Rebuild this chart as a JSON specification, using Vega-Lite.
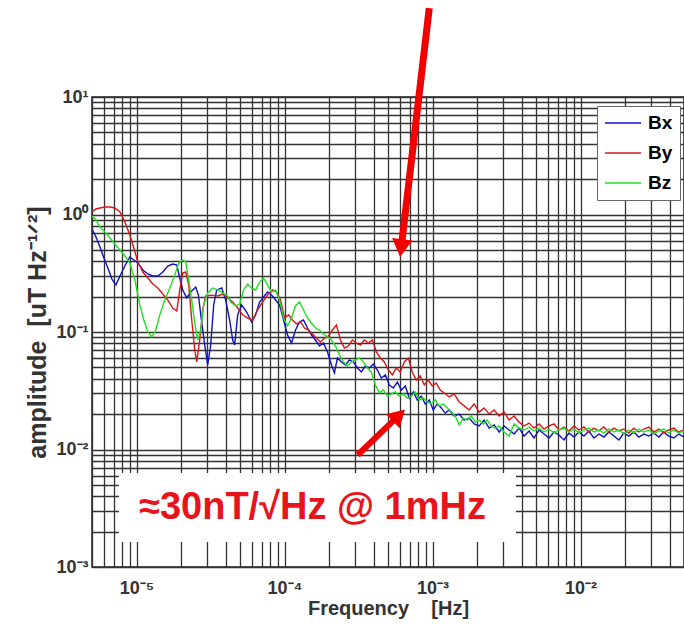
{
  "$schema": "https://vega.github.io/schema/vega-lite/v6.json",
  "width": 592,
  "height": 470,
  "autosize": {"type": "none"},
  "padding": {"left": 92, "top": 97, "right": 0, "bottom": 59},
  "background": "white",
  "config": {
    "view": {"stroke": "#222", "strokeWidth": 1.5},
    "axis": {
      "grid": true,
      "gridColor": "#333",
      "gridWidth": 1.3,
      "gridOpacity": 1,
      "ticks": false,
      "domain": false,
      "labelFont": "Liberation Sans",
      "labelFontWeight": "bold",
      "labelFontSize": 18,
      "labelColor": "#333",
      "labelOverlap": false,
      "labelFlush": false,
      "titleFont": "Liberation Sans",
      "titleFontWeight": "bold",
      "titleColor": "#333"
    }
  },
  "datasets": {
    "psd": [
      {"f":5.0e-6,"a":0.753,"s":"Bx"},{"f":5.32e-6,"a":0.643,"s":"Bx"},{"f":5.66e-6,"a":0.529,"s":"Bx"},{"f":6.02e-6,"a":0.426,"s":"Bx"},{"f":6.40e-6,"a":0.350,"s":"Bx"},{"f":6.82e-6,"a":0.282,"s":"Bx"},{"f":7.25e-6,"a":0.251,"s":"Bx"},{"f":7.84e-6,"a":0.312,"s":"Bx"},{"f":8.47e-6,"a":0.379,"s":"Bx"},{"f":9.01e-6,"a":0.435,"s":"Bx"},{"f":9.59e-6,"a":0.410,"s":"Bx"},{"f":1.02e-5,"a":0.387,"s":"Bx"},{"f":1.103e-5,"a":0.337,"s":"Bx"},{"f":1.192e-5,"a":0.312,"s":"Bx"},{"f":1.288e-5,"a":0.300,"s":"Bx"},{"f":1.392e-5,"a":0.300,"s":"Bx"},{"f":1.505e-5,"a":0.324,"s":"Bx"},{"f":1.626e-5,"a":0.364,"s":"Bx"},{"f":1.757e-5,"a":0.379,"s":"Bx"},{"f":1.87e-5,"a":0.372,"s":"Bx"},{"f":1.959e-5,"a":0.288,"s":"Bx"},{"f":2.052e-5,"a":0.228,"s":"Bx"},{"f":2.183e-5,"a":0.195,"s":"Bx"},{"f":2.323e-5,"a":0.219,"s":"Bx"},{"f":2.512e-5,"a":0.2415,"s":"Bx"},{"f":2.618e-5,"a":0.206,"s":"Bx"},{"f":2.744e-5,"a":0.1265,"s":"Bx"},{"f":2.888e-5,"a":0.0775,"s":"Bx"},{"f":3.025e-5,"a":0.0524,"s":"Bx"},{"f":3.17e-5,"a":0.0775,"s":"Bx"},{"f":3.321e-5,"a":0.170,"s":"Bx"},{"f":3.479e-5,"a":0.228,"s":"Bx"},{"f":3.761e-5,"a":0.237,"s":"Bx"},{"f":4.0e-5,"a":0.187,"s":"Bx"},{"f":4.258e-5,"a":0.1265,"s":"Bx"},{"f":4.461e-5,"a":0.0855,"s":"Bx"},{"f":4.601e-5,"a":0.0775,"s":"Bx"},{"f":4.82e-5,"a":0.140,"s":"Bx"},{"f":5.13e-5,"a":0.170,"s":"Bx"},{"f":5.544e-5,"a":0.148,"s":"Bx"},{"f":5.991e-5,"a":0.1217,"s":"Bx"},{"f":6.376e-5,"a":0.140,"s":"Bx"},{"f":6.784e-5,"a":0.180,"s":"Bx"},{"f":7.217e-5,"a":0.1986,"s":"Bx"},{"f":7.68e-5,"a":0.219,"s":"Bx"},{"f":8.174e-5,"a":0.206,"s":"Bx"},{"f":8.698e-5,"a":0.187,"s":"Bx"},{"f":9.253e-5,"a":0.170,"s":"Bx"},{"f":9.847e-5,"a":0.1265,"s":"Bx"},{"f":1.048e-4,"a":0.0943,"s":"Bx"},{"f":1.115e-4,"a":0.0806,"s":"Bx"},{"f":1.186e-4,"a":0.1040,"s":"Bx"},{"f":1.262e-4,"a":0.1217,"s":"Bx"},{"f":1.343e-4,"a":0.1265,"s":"Bx"},{"f":1.429e-4,"a":0.1081,"s":"Bx"},{"f":1.521e-4,"a":0.0943,"s":"Bx"},{"f":1.618e-4,"a":0.0855,"s":"Bx"},{"f":1.722e-4,"a":0.0760,"s":"Bx"},{"f":1.833e-4,"a":0.0806,"s":"Bx"},{"f":1.95e-4,"a":0.0676,"s":"Bx"},{"f":2.075e-4,"a":0.0524,"s":"Bx"},{"f":2.173e-4,"a":0.0448,"s":"Bx"},{"f":2.277e-4,"a":0.0601,"s":"Bx"},{"f":2.423e-4,"a":0.0556,"s":"Bx"},{"f":2.578e-4,"a":0.0524,"s":"Bx"},{"f":2.743e-4,"a":0.0578,"s":"Bx"},{"f":2.919e-4,"a":0.0556,"s":"Bx"},{"f":3.107e-4,"a":0.0494,"s":"Bx"},{"f":3.306e-4,"a":0.0457,"s":"Bx"},{"f":3.518e-4,"a":0.0514,"s":"Bx"},{"f":3.742e-4,"a":0.0494,"s":"Bx"},{"f":3.982e-4,"a":0.0534,"s":"Bx"},{"f":4.238e-4,"a":0.0475,"s":"Bx"},{"f":4.51e-4,"a":0.0406,"s":"Bx"},{"f":4.798e-4,"a":0.0431,"s":"Bx"},{"f":5.104e-4,"a":0.0354,"s":"Bx"},{"f":5.432e-4,"a":0.0334,"s":"Bx"},{"f":5.781e-4,"a":0.0375,"s":"Bx"},{"f":6.152e-4,"a":0.0321,"s":"Bx"},{"f":6.546e-4,"a":0.0347,"s":"Bx"},{"f":6.962e-4,"a":0.0274,"s":"Bx"},{"f":7.413e-4,"a":0.0309,"s":"Bx"},{"f":7.886e-4,"a":0.0264,"s":"Bx"},{"f":8.391e-4,"a":0.0285,"s":"Bx"},{"f":8.929e-4,"a":0.0244,"s":"Bx"},{"f":9.502e-4,"a":0.0264,"s":"Bx"},{"f":1.011e-3,"a":0.0217,"s":"Bx"},{"f":1.076e-3,"a":0.0244,"s":"Bx"},{"f":1.145e-3,"a":0.0226,"s":"Bx"},{"f":1.218e-3,"a":0.0204,"s":"Bx"},{"f":1.296e-3,"a":0.0217,"s":"Bx"},{"f":1.401e-3,"a":0.0193,"s":"Bx"},{"f":1.514e-3,"a":0.0200,"s":"Bx"},{"f":1.636e-3,"a":0.0178,"s":"Bx"},{"f":1.768e-3,"a":0.0185,"s":"Bx"},{"f":1.911e-3,"a":0.0165,"s":"Bx"},{"f":2.065e-3,"a":0.01585,"s":"Bx"},{"f":2.232e-3,"a":0.0178,"s":"Bx"},{"f":2.412e-3,"a":0.0152,"s":"Bx"},{"f":2.607e-3,"a":0.0162,"s":"Bx"},{"f":2.817e-3,"a":0.01409,"s":"Bx"},{"f":3.045e-3,"a":0.01585,"s":"Bx"},{"f":3.29e-3,"a":0.01466,"s":"Bx"},{"f":3.556e-3,"a":0.01354,"s":"Bx"},{"f":3.843e-3,"a":0.0152,"s":"Bx"},{"f":4.153e-3,"a":0.01302,"s":"Bx"},{"f":4.488e-3,"a":0.01437,"s":"Bx"},{"f":4.85e-3,"a":0.01253,"s":"Bx"},{"f":5.242e-3,"a":0.01466,"s":"Bx"},{"f":5.665e-3,"a":0.01354,"s":"Bx"},{"f":6.123e-3,"a":0.01253,"s":"Bx"},{"f":6.616e-3,"a":0.01409,"s":"Bx"},{"f":7.151e-3,"a":0.01329,"s":"Bx"},{"f":7.728e-3,"a":0.01205,"s":"Bx"},{"f":8.352e-3,"a":0.01382,"s":"Bx"},{"f":9.026e-3,"a":0.01277,"s":"Bx"},{"f":9.754e-3,"a":0.01409,"s":"Bx"},{"f":1.054e-2,"a":0.01302,"s":"Bx"},{"f":1.139e-2,"a":0.01437,"s":"Bx"},{"f":1.231e-2,"a":0.01253,"s":"Bx"},{"f":1.331e-2,"a":0.01354,"s":"Bx"},{"f":1.438e-2,"a":0.01277,"s":"Bx"},{"f":1.554e-2,"a":0.01409,"s":"Bx"},{"f":1.68e-2,"a":0.01302,"s":"Bx"},{"f":1.815e-2,"a":0.01205,"s":"Bx"},{"f":1.962e-2,"a":0.01382,"s":"Bx"},{"f":2.12e-2,"a":0.01302,"s":"Bx"},{"f":2.291e-2,"a":0.01409,"s":"Bx"},{"f":2.476e-2,"a":0.01277,"s":"Bx"},{"f":2.676e-2,"a":0.01354,"s":"Bx"},{"f":2.892e-2,"a":0.01302,"s":"Bx"},{"f":3.126e-2,"a":0.01382,"s":"Bx"},{"f":3.378e-2,"a":0.01277,"s":"Bx"},{"f":3.651e-2,"a":0.01409,"s":"Bx"},{"f":3.945e-2,"a":0.01302,"s":"Bx"},{"f":4.264e-2,"a":0.01253,"s":"Bx"},{"f":4.607e-2,"a":0.01354,"s":"Bx"},{"f":4.98e-2,"a":0.01277,"s":"Bx"},

      {"f":5.0e-6,"a":1.050,"s":"By"},{"f":5.32e-6,"a":1.114,"s":"By"},{"f":5.66e-6,"a":1.136,"s":"By"},{"f":6.11e-6,"a":1.158,"s":"By"},{"f":6.61e-6,"a":1.158,"s":"By"},{"f":7.14e-6,"a":1.136,"s":"By"},{"f":7.72e-6,"a":1.050,"s":"By"},{"f":8.34e-6,"a":0.863,"s":"By"},{"f":9.01e-6,"a":0.669,"s":"By"},{"f":9.59e-6,"a":0.519,"s":"By"},{"f":1.02e-5,"a":0.394,"s":"By"},{"f":1.103e-5,"a":0.324,"s":"By"},{"f":1.192e-5,"a":0.288,"s":"By"},{"f":1.288e-5,"a":0.256,"s":"By"},{"f":1.392e-5,"a":0.237,"s":"By"},{"f":1.505e-5,"a":0.2106,"s":"By"},{"f":1.626e-5,"a":0.187,"s":"By"},{"f":1.757e-5,"a":0.160,"s":"By"},{"f":1.87e-5,"a":0.151,"s":"By"},{"f":1.959e-5,"a":0.228,"s":"By"},{"f":2.052e-5,"a":0.318,"s":"By"},{"f":2.15e-5,"a":0.324,"s":"By"},{"f":2.253e-5,"a":0.251,"s":"By"},{"f":2.36e-5,"a":0.1265,"s":"By"},{"f":2.472e-5,"a":0.0703,"s":"By"},{"f":2.55e-5,"a":0.0556,"s":"By"},{"f":2.672e-5,"a":0.0855,"s":"By"},{"f":2.8e-5,"a":0.154,"s":"By"},{"f":2.933e-5,"a":0.2025,"s":"By"},{"f":3.219e-5,"a":0.206,"s":"By"},{"f":3.535e-5,"a":0.2025,"s":"By"},{"f":3.819e-5,"a":0.2106,"s":"By"},{"f":4.127e-5,"a":0.195,"s":"By"},{"f":4.461e-5,"a":0.180,"s":"By"},{"f":4.82e-5,"a":0.160,"s":"By"},{"f":5.21e-5,"a":0.140,"s":"By"},{"f":5.63e-5,"a":0.1315,"s":"By"},{"f":6.085e-5,"a":0.1265,"s":"By"},{"f":6.577e-5,"a":0.154,"s":"By"},{"f":7.107e-5,"a":0.180,"s":"By"},{"f":7.68e-5,"a":0.206,"s":"By"},{"f":8.303e-5,"a":0.228,"s":"By"},{"f":8.834e-5,"a":0.219,"s":"By"},{"f":9.4e-5,"a":0.187,"s":"By"},{"f":1.0e-4,"a":0.1315,"s":"By"},{"f":1.064e-4,"a":0.140,"s":"By"},{"f":1.132e-4,"a":0.1265,"s":"By"},{"f":1.205e-4,"a":0.1170,"s":"By"},{"f":1.282e-4,"a":0.1217,"s":"By"},{"f":1.364e-4,"a":0.1081,"s":"By"},{"f":1.451e-4,"a":0.1040,"s":"By"},{"f":1.545e-4,"a":0.0962,"s":"By"},{"f":1.643e-4,"a":0.0889,"s":"By"},{"f":1.749e-4,"a":0.0822,"s":"By"},{"f":1.861e-4,"a":0.0889,"s":"By"},{"f":1.98e-4,"a":0.0925,"s":"By"},{"f":2.107e-4,"a":0.1040,"s":"By"},{"f":2.242e-4,"a":0.1147,"s":"By"},{"f":2.386e-4,"a":0.0855,"s":"By"},{"f":2.538e-4,"a":0.0731,"s":"By"},{"f":2.701e-4,"a":0.0760,"s":"By"},{"f":2.874e-4,"a":0.0855,"s":"By"},{"f":3.058e-4,"a":0.0806,"s":"By"},{"f":3.254e-4,"a":0.0775,"s":"By"},{"f":3.462e-4,"a":0.0855,"s":"By"},{"f":3.684e-4,"a":0.0806,"s":"By"},{"f":3.921e-4,"a":0.0855,"s":"By"},{"f":4.172e-4,"a":0.0676,"s":"By"},{"f":4.439e-4,"a":0.0601,"s":"By"},{"f":4.723e-4,"a":0.0556,"s":"By"},{"f":5.026e-4,"a":0.0475,"s":"By"},{"f":5.348e-4,"a":0.0431,"s":"By"},{"f":5.691e-4,"a":0.0494,"s":"By"},{"f":6.055e-4,"a":0.0457,"s":"By"},{"f":6.442e-4,"a":0.0556,"s":"By"},{"f":6.856e-4,"a":0.0601,"s":"By"},{"f":7.295e-4,"a":0.0457,"s":"By"},{"f":7.762e-4,"a":0.0390,"s":"By"},{"f":8.26e-4,"a":0.0422,"s":"By"},{"f":8.793e-4,"a":0.0354,"s":"By"},{"f":9.356e-4,"a":0.0390,"s":"By"},{"f":9.954e-4,"a":0.0347,"s":"By"},{"f":1.059e-3,"a":0.0368,"s":"By"},{"f":1.127e-3,"a":0.0321,"s":"By"},{"f":1.2e-3,"a":0.0303,"s":"By"},{"f":1.296e-3,"a":0.0280,"s":"By"},{"f":1.401e-3,"a":0.0297,"s":"By"},{"f":1.514e-3,"a":0.0254,"s":"By"},{"f":1.636e-3,"a":0.0235,"s":"By"},{"f":1.768e-3,"a":0.0217,"s":"By"},{"f":1.911e-3,"a":0.0244,"s":"By"},{"f":2.065e-3,"a":0.0208,"s":"By"},{"f":2.232e-3,"a":0.0226,"s":"By"},{"f":2.412e-3,"a":0.0200,"s":"By"},{"f":2.607e-3,"a":0.0217,"s":"By"},{"f":2.817e-3,"a":0.0193,"s":"By"},{"f":3.045e-3,"a":0.0208,"s":"By"},{"f":3.29e-3,"a":0.0178,"s":"By"},{"f":3.556e-3,"a":0.0193,"s":"By"},{"f":3.843e-3,"a":0.0171,"s":"By"},{"f":4.153e-3,"a":0.01585,"s":"By"},{"f":4.488e-3,"a":0.0168,"s":"By"},{"f":4.85e-3,"a":0.0152,"s":"By"},{"f":5.242e-3,"a":0.0165,"s":"By"},{"f":5.665e-3,"a":0.01494,"s":"By"},{"f":6.123e-3,"a":0.01585,"s":"By"},{"f":6.616e-3,"a":0.0165,"s":"By"},{"f":7.151e-3,"a":0.01466,"s":"By"},{"f":7.728e-3,"a":0.01554,"s":"By"},{"f":8.352e-3,"a":0.01437,"s":"By"},{"f":9.026e-3,"a":0.01585,"s":"By"},{"f":9.754e-3,"a":0.01466,"s":"By"},{"f":1.054e-2,"a":0.01554,"s":"By"},{"f":1.139e-2,"a":0.01409,"s":"By"},{"f":1.231e-2,"a":0.0152,"s":"By"},{"f":1.331e-2,"a":0.01437,"s":"By"},{"f":1.438e-2,"a":0.01554,"s":"By"},{"f":1.554e-2,"a":0.01409,"s":"By"},{"f":1.68e-2,"a":0.0152,"s":"By"},{"f":1.815e-2,"a":0.01437,"s":"By"},{"f":1.962e-2,"a":0.01494,"s":"By"},{"f":2.12e-2,"a":0.01382,"s":"By"},{"f":2.291e-2,"a":0.0152,"s":"By"},{"f":2.476e-2,"a":0.01409,"s":"By"},{"f":2.676e-2,"a":0.01494,"s":"By"},{"f":2.892e-2,"a":0.01554,"s":"By"},{"f":3.126e-2,"a":0.01409,"s":"By"},{"f":3.378e-2,"a":0.01494,"s":"By"},{"f":3.651e-2,"a":0.01382,"s":"By"},{"f":3.945e-2,"a":0.01466,"s":"By"},{"f":4.264e-2,"a":0.0152,"s":"By"},{"f":4.607e-2,"a":0.01409,"s":"By"},{"f":4.98e-2,"a":0.01466,"s":"By"},

      {"f":5.0e-6,"a":0.971,"s":"Bz"},{"f":5.32e-6,"a":0.898,"s":"Bz"},{"f":5.66e-6,"a":0.783,"s":"Bz"},{"f":6.11e-6,"a":0.710,"s":"Bz"},{"f":6.61e-6,"a":0.631,"s":"Bz"},{"f":7.14e-6,"a":0.561,"s":"Bz"},{"f":7.72e-6,"a":0.499,"s":"Bz"},{"f":8.34e-6,"a":0.443,"s":"Bz"},{"f":9.01e-6,"a":0.387,"s":"Bz"},{"f":9.74e-6,"a":0.277,"s":"Bz"},{"f":1.053e-5,"a":0.170,"s":"Bz"},{"f":1.12e-5,"a":0.1265,"s":"Bz"},{"f":1.192e-5,"a":0.100,"s":"Bz"},{"f":1.268e-5,"a":0.0907,"s":"Bz"},{"f":1.349e-5,"a":0.1040,"s":"Bz"},{"f":1.436e-5,"a":0.140,"s":"Bz"},{"f":1.552e-5,"a":0.187,"s":"Bz"},{"f":1.677e-5,"a":0.237,"s":"Bz"},{"f":1.812e-5,"a":0.306,"s":"Bz"},{"f":1.929e-5,"a":0.387,"s":"Bz"},{"f":2.052e-5,"a":0.410,"s":"Bz"},{"f":2.15e-5,"a":0.394,"s":"Bz"},{"f":2.253e-5,"a":0.277,"s":"Bz"},{"f":2.36e-5,"a":0.187,"s":"Bz"},{"f":2.472e-5,"a":0.1193,"s":"Bz"},{"f":2.591e-5,"a":0.0855,"s":"Bz"},{"f":2.715e-5,"a":0.1040,"s":"Bz"},{"f":2.843e-5,"a":0.170,"s":"Bz"},{"f":3.025e-5,"a":0.215,"s":"Bz"},{"f":3.27e-5,"a":0.237,"s":"Bz"},{"f":3.535e-5,"a":0.228,"s":"Bz"},{"f":3.819e-5,"a":0.215,"s":"Bz"},{"f":4.127e-5,"a":0.2025,"s":"Bz"},{"f":4.324e-5,"a":0.180,"s":"Bz"},{"f":4.673e-5,"a":0.1665,"s":"Bz"},{"f":4.973e-5,"a":0.173,"s":"Bz"},{"f":5.291e-5,"a":0.228,"s":"Bz"},{"f":5.63e-5,"a":0.256,"s":"Bz"},{"f":5.991e-5,"a":0.237,"s":"Bz"},{"f":6.376e-5,"a":0.228,"s":"Bz"},{"f":6.784e-5,"a":0.266,"s":"Bz"},{"f":7.217e-5,"a":0.288,"s":"Bz"},{"f":7.68e-5,"a":0.251,"s":"Bz"},{"f":8.174e-5,"a":0.219,"s":"Bz"},{"f":8.698e-5,"a":0.228,"s":"Bz"},{"f":9.253e-5,"a":0.187,"s":"Bz"},{"f":9.847e-5,"a":0.1315,"s":"Bz"},{"f":1.048e-4,"a":0.1125,"s":"Bz"},{"f":1.115e-4,"a":0.1315,"s":"Bz"},{"f":1.186e-4,"a":0.1665,"s":"Bz"},{"f":1.262e-4,"a":0.180,"s":"Bz"},{"f":1.343e-4,"a":0.154,"s":"Bz"},{"f":1.429e-4,"a":0.1315,"s":"Bz"},{"f":1.521e-4,"a":0.1193,"s":"Bz"},{"f":1.618e-4,"a":0.1081,"s":"Bz"},{"f":1.722e-4,"a":0.1040,"s":"Bz"},{"f":1.833e-4,"a":0.0962,"s":"Bz"},{"f":1.95e-4,"a":0.0907,"s":"Bz"},{"f":2.075e-4,"a":0.0855,"s":"Bz"},{"f":2.208e-4,"a":0.0760,"s":"Bz"},{"f":2.349e-4,"a":0.0637,"s":"Bz"},{"f":2.499e-4,"a":0.0556,"s":"Bz"},{"f":2.659e-4,"a":0.0514,"s":"Bz"},{"f":2.83e-4,"a":0.0556,"s":"Bz"},{"f":3.012e-4,"a":0.0578,"s":"Bz"},{"f":3.204e-4,"a":0.0601,"s":"Bz"},{"f":3.409e-4,"a":0.0556,"s":"Bz"},{"f":3.628e-4,"a":0.0494,"s":"Bz"},{"f":3.861e-4,"a":0.0457,"s":"Bz"},{"f":4.108e-4,"a":0.0354,"s":"Bz"},{"f":4.37e-4,"a":0.0303,"s":"Bz"},{"f":4.651e-4,"a":0.0321,"s":"Bz"},{"f":4.949e-4,"a":0.0285,"s":"Bz"},{"f":5.266e-4,"a":0.0297,"s":"Bz"},{"f":5.604e-4,"a":0.0309,"s":"Bz"},{"f":5.961e-4,"a":0.0285,"s":"Bz"},{"f":6.345e-4,"a":0.0297,"s":"Bz"},{"f":6.752e-4,"a":0.0274,"s":"Bz"},{"f":7.184e-4,"a":0.0285,"s":"Bz"},{"f":7.644e-4,"a":0.0309,"s":"Bz"},{"f":8.131e-4,"a":0.0264,"s":"Bz"},{"f":8.656e-4,"a":0.0274,"s":"Bz"},{"f":9.21e-4,"a":0.0254,"s":"Bz"},{"f":9.8e-4,"a":0.0244,"s":"Bz"},{"f":1.043e-3,"a":0.0264,"s":"Bz"},{"f":1.11e-3,"a":0.0235,"s":"Bz"},{"f":1.181e-3,"a":0.0244,"s":"Bz"},{"f":1.257e-3,"a":0.0226,"s":"Bz"},{"f":1.337e-3,"a":0.0208,"s":"Bz"},{"f":1.423e-3,"a":0.0193,"s":"Bz"},{"f":1.514e-3,"a":0.0162,"s":"Bz"},{"f":1.611e-3,"a":0.0185,"s":"Bz"},{"f":1.714e-3,"a":0.0178,"s":"Bz"},{"f":1.824e-3,"a":0.0193,"s":"Bz"},{"f":1.941e-3,"a":0.0171,"s":"Bz"},{"f":2.065e-3,"a":0.0178,"s":"Bz"},{"f":2.197e-3,"a":0.0165,"s":"Bz"},{"f":2.337e-3,"a":0.0178,"s":"Bz"},{"f":2.488e-3,"a":0.01585,"s":"Bz"},{"f":2.648e-3,"a":0.0152,"s":"Bz"},{"f":2.817e-3,"a":0.01585,"s":"Bz"},{"f":3.045e-3,"a":0.01409,"s":"Bz"},{"f":3.29e-3,"a":0.01302,"s":"Bz"},{"f":3.556e-3,"a":0.0165,"s":"Bz"},{"f":3.843e-3,"a":0.0152,"s":"Bz"},{"f":4.153e-3,"a":0.01466,"s":"Bz"},{"f":4.488e-3,"a":0.01554,"s":"Bz"},{"f":4.85e-3,"a":0.01437,"s":"Bz"},{"f":5.242e-3,"a":0.0152,"s":"Bz"},{"f":5.665e-3,"a":0.01409,"s":"Bz"},{"f":6.123e-3,"a":0.01494,"s":"Bz"},{"f":6.616e-3,"a":0.01382,"s":"Bz"},{"f":7.151e-3,"a":0.01466,"s":"Bz"},{"f":7.728e-3,"a":0.0152,"s":"Bz"},{"f":8.352e-3,"a":0.01409,"s":"Bz"},{"f":9.026e-3,"a":0.01494,"s":"Bz"},{"f":9.754e-3,"a":0.01382,"s":"Bz"},{"f":1.054e-2,"a":0.01466,"s":"Bz"},{"f":1.139e-2,"a":0.0152,"s":"Bz"},{"f":1.231e-2,"a":0.01409,"s":"Bz"},{"f":1.331e-2,"a":0.01466,"s":"Bz"},{"f":1.438e-2,"a":0.01382,"s":"Bz"},{"f":1.554e-2,"a":0.01494,"s":"Bz"},{"f":1.68e-2,"a":0.01409,"s":"Bz"},{"f":1.815e-2,"a":0.01466,"s":"Bz"},{"f":1.962e-2,"a":0.01354,"s":"Bz"},{"f":2.12e-2,"a":0.01466,"s":"Bz"},{"f":2.291e-2,"a":0.01382,"s":"Bz"},{"f":2.476e-2,"a":0.01494,"s":"Bz"},{"f":2.676e-2,"a":0.01409,"s":"Bz"},{"f":2.892e-2,"a":0.01466,"s":"Bz"},{"f":3.126e-2,"a":0.01354,"s":"Bz"},{"f":3.378e-2,"a":0.01437,"s":"Bz"},{"f":3.651e-2,"a":0.01494,"s":"Bz"},{"f":3.945e-2,"a":0.01382,"s":"Bz"},{"f":4.264e-2,"a":0.01466,"s":"Bz"},{"f":4.607e-2,"a":0.01382,"s":"Bz"},{"f":4.98e-2,"a":0.01437,"s":"Bz"}
    ]
  },
  "layer": [
    {
      "data": {"name": "psd"},
      "mark": {"type": "line", "strokeWidth": 1.4, "clip": true},
      "encoding": {
        "x": {
          "field": "f", "type": "quantitative",
          "scale": {"type": "log", "domain": [0.000005, 0.05], "nice": false},
          "axis": {
            "title": "Frequency\u00a0\u00a0\u00a0\u00a0[Hz]",
            "titleFontSize": 20,
            "titlePadding": 1,
            "labelPadding": 12,
            "values": [0.000005,0.000006,0.000007,0.000008,0.000009,0.00001,0.00002,0.00003,0.00004,0.00005,0.00006,0.00007,0.00008,0.00009,0.0001,0.0002,0.0003,0.0004,0.0005,0.0006,0.0007,0.0008,0.0009,0.001,0.002,0.003,0.004,0.005,0.006,0.007,0.008,0.009,0.01,0.02,0.03,0.04,0.05],
            "labelExpr": "datum.value == 0.00001 ? '10⁻⁵' : datum.value == 0.0001 ? '10⁻⁴' : datum.value == 0.001 ? '10⁻³' : datum.value == 0.01 ? '10⁻²' : ''"
          }
        },
        "y": {
          "field": "a", "type": "quantitative",
          "scale": {"type": "log", "domain": [0.001, 10], "nice": false},
          "axis": {
            "title": "amplitude\u00a0\u00a0[uT Hz⁻¹ᐟ²]",
            "titleFontSize": 25,
            "titlePadding": 5,
            "labelPadding": 4,
            "values": [0.001,0.002,0.003,0.004,0.005,0.006,0.007,0.008,0.009,0.01,0.02,0.03,0.04,0.05,0.06,0.07,0.08,0.09,0.1,0.2,0.3,0.4,0.5,0.6,0.7,0.8,0.9,1,2,3,4,5,6,7,8,9,10],
            "labelExpr": "datum.value == 0.001 ? '10⁻³' : datum.value == 0.01 ? '10⁻²' : datum.value == 0.1 ? '10⁻¹' : datum.value == 1 ? '10⁰' : datum.value == 10 ? '10¹' : ''"
          }
        },
        "color": {
          "field": "s", "type": "nominal",
          "scale": {"domain": ["Bx", "By", "Bz"], "range": ["#1010c0", "#d81818", "#22e022"]},
          "legend": {
            "orient": "none", "legendX": 505, "legendY": 9,
            "title": null,
            "symbolType": "stroke", "symbolSize": 1300, "symbolStrokeWidth": 1.5,
            "labelFont": "Liberation Sans", "labelFontSize": 19, "labelFontWeight": "bold", "labelColor": "#000",
            "labelOffset": 6,
            "fillColor": "white", "strokeColor": "#666",
            "padding": 7, "rowPadding": 10, "clipHeight": 20
          }
        }
      }
    },
    {
      "data": {"values": [{}]},
      "mark": {"type": "rect", "color": "white", "clip": false},
      "encoding": {
        "x": {"datum": 0.0000076, "type": "quantitative"},
        "x2": {"datum": 0.00366},
        "y": {"datum": 0.00163, "type": "quantitative"},
        "y2": {"datum": 0.0063}
      }
    },
    {
      "data": {"values": [{}]},
      "mark": {"type": "text", "text": "≈30nT/√Hz @ 1mHz", "font": "Liberation Sans", "fontWeight": "bold", "fontSize": 38, "color": "#e8141c", "align": "center", "baseline": "middle"},
      "encoding": {
        "x": {"datum": 0.0001545, "type": "quantitative"},
        "y": {"datum": 0.00318, "type": "quantitative"}
      }
    },
    {
      "data": {"values": [{}]},
      "mark": {"type": "rule", "color": "#f20000", "strokeWidth": 7, "clip": false},
      "encoding": {
        "x": {"datum": 0.00095, "type": "quantitative"},
        "y": {"datum": 57, "type": "quantitative"},
        "x2": {"datum": 0.000614},
        "y2": {"datum": 0.5176}
      }
    },
    {
      "data": {"values": [{}]},
      "mark": {"type": "point", "shape": "triangle-down", "filled": true, "color": "#f20000", "opacity": 1, "size": 420, "angle": 6.7, "clip": false},
      "encoding": {
        "x": {"datum": 0.000614, "type": "quantitative"},
        "y": {"datum": 0.5176, "type": "quantitative"}
      }
    },
    {
      "data": {"values": [{}]},
      "mark": {"type": "rule", "color": "#f20000", "strokeWidth": 6, "clip": false},
      "encoding": {
        "x": {"datum": 0.000312, "type": "quantitative"},
        "y": {"datum": 0.00898, "type": "quantitative"},
        "x2": {"datum": 0.000592},
        "y2": {"datum": 0.01954}
      }
    },
    {
      "data": {"values": [{}]},
      "mark": {"type": "point", "shape": "triangle-up", "filled": true, "color": "#f20000", "opacity": 1, "size": 380, "angle": 46, "clip": false},
      "encoding": {
        "x": {"datum": 0.000592, "type": "quantitative"},
        "y": {"datum": 0.01954, "type": "quantitative"}
      }
    }
  ]
}
